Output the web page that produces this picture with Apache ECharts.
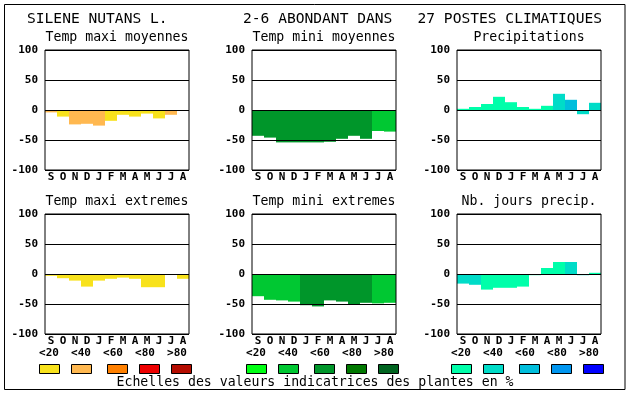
<!DOCTYPE html>
<html>
<head>
<meta charset="utf-8">
<script src="https://cdn.jsdelivr.net/npm/echarts@6/dist/echarts.min.js"></script>
<style>html,body{margin:0;padding:0;background:#fff}#c{width:630px;height:394px}</style>
</head>
<body>
<div id="c"></div>
<script>
// ---- data ----
var months = ['S','O','N','D','J','F','M','A','M','J','J','A'];
var yTicks = [-100, -50, 0, 50, 100];
var legendLabels = ['<20','<40','<60','<80','>80'];
var mainTitle = 'SILENE NUTANS L.';
var titleMid = '2-6 ABONDANT DANS';
var titleRight = '27 POSTES CLIMATIQUES';
var footer = 'Echelles des valeurs indicatrices des plantes en %';

var panelTitles = ['Temp maxi moyennes','Temp mini moyennes','Precipitations',
                   'Temp maxi extremes','Temp mini extremes','Nb. jours precip.'];

var tmaxMoy = [-4,-11,-24,-23,-26,-18,-8,-11,-6,-14,-8,0];
var tmaxMoyCls = [1,0,1,1,1,0,0,0,0,0,1,0];
var tminMoy = [-43,-46,-54,-54,-54,-54,-53,-48,-43,-48,-35,-36];
var tminMoyCls = [2,2,2,2,2,2,2,2,2,2,1,1];
var precip = [2,5,10,22,13,5,2,7,27,17,-7,12];
var precipCls = [0,0,0,0,0,0,0,0,1,2,1,1];
var tmaxExt = [-3,-7,-11,-21,-11,-8,-6,-8,-22,-22,0,-8];
var tmaxExtCls = [0,0,0,0,0,0,0,0,0,0,0,0];
var tminExt = [-37,-43,-44,-46,-52,-54,-44,-46,-50,-48,-49,-48];
var tminExtCls = [1,1,1,1,2,2,2,2,2,2,1,1];
var nbJours = [-16,-18,-26,-23,-23,-21,-2,10,20,20,-2,2];
var nbJoursCls = [1,1,0,0,0,0,0,0,0,1,1,0];

// palettes (colours of the abundance classes)
var warmPal = ['#F8E21C','#FFB850','#FF8000','#EE0000','#B40C00'];
var greenPal = ['#00FF14','#00C832','#00962A','#007800','#006420'];
var bluePal = ['#00FFAA','#00DCC8','#00BEDC','#0096F0','#0000FF'];

var panelValues = [tmaxMoy, tminMoy, precip, tmaxExt, tminExt, nbJours];
var panelCls = [tmaxMoyCls, tminMoyCls, precipCls, tmaxExtCls, tminExtCls, nbJoursCls];
var panelPal = [warmPal, greenPal, bluePal, warmPal, greenPal, bluePal];

// ---- layout ----
var lefts = [45, 252, 457];
var tops = [50, 214];
var W = 144, H = 120;
var mono = '"DejaVu Sans Mono", monospace';

var grids = [], xAxes = [], yAxes = [], series = [], graphics = [];

for (var i = 0; i < 6; i++) {
  var col = i % 3, row = Math.floor(i / 3);
  grids.push({left: lefts[col], top: tops[row], width: W, height: H,
    show: true, borderColor: '#000', borderWidth: 1, backgroundColor: 'transparent', z: 4});
  xAxes.push({type: 'category', gridIndex: i, data: months, boundaryGap: true,
    axisLine: {show: false}, axisTick: {show: false},
    axisLabel: {color: '#000', fontFamily: mono, fontWeight: 'bold', fontSize: 11, margin: 2, interval: 0}});
  yAxes.push({type: 'value', gridIndex: i, min: -100, max: 100, interval: 50, z: 4,
    axisLine: {show: false}, axisTick: {show: false},
    splitLine: {show: true, lineStyle: {color: '#000', width: 1}},
    axisLabel: {color: '#000', fontFamily: mono, fontWeight: 'bold', fontSize: 11, margin: 7}});
  var vals = panelValues[i], cls = panelCls[i], pal = panelPal[i];
  series.push({type: 'bar', xAxisIndex: i, yAxisIndex: i, barWidth: '100%', barGap: '0%',
    silent: true, animation: false, z: 2,
    data: vals.map(function (v, k) { return {value: v, itemStyle: {color: pal[cls[k]]}}; })});
  graphics.push({type: 'text', x: lefts[col] + W / 2, y: row === 0 ? 31 : 195,
    style: {text: panelTitles[i], font: '13.2px ' + mono, fill: '#000', textAlign: 'center'}});
}

// legends
var legPals = [warmPal, greenPal, bluePal];
var boxOff = [0, 32, 68, 100, 132];
for (var c = 0; c < 3; c++) {
  var base = lefts[c] - 6;
  for (var j = 0; j < 5; j++) {
    graphics.push({type: 'text', x: base + j * 32 + 10, y: 348,
      style: {text: legendLabels[j], font: 'bold 11px ' + mono, fill: '#000', textAlign: 'center'}});
    graphics.push({type: 'rect', shape: {x: base + boxOff[j] + 0.5, y: 364.5, width: 20, height: 9},
      style: {fill: legPals[c][j], stroke: '#000', lineWidth: 1}});
  }
}

// titles, footer, frame
graphics.push({type: 'text', x: 27, y: 11.5, style: {text: mainTitle, font: '14.6px ' + mono, fill: '#000'}});
graphics.push({type: 'text', x: 243, y: 11.5, style: {text: titleMid, font: '14.6px ' + mono, fill: '#000'}});
graphics.push({type: 'text', x: 602, y: 11.5, style: {text: titleRight, font: '14.6px ' + mono, fill: '#000', textAlign: 'right'}});
graphics.push({type: 'text', x: 315, y: 376, style: {text: footer, font: '13.2px ' + mono, fill: '#000', textAlign: 'center'}});
graphics.push({type: 'rect', shape: {x: 4.5, y: 4.5, width: 620.5, height: 385},
  style: {fill: 'none', stroke: '#000', lineWidth: 1}, z: 10});

var chart = echarts.init(document.getElementById('c'), null, {renderer: 'canvas'});
chart.setOption({
  animation: false,
  backgroundColor: '#fff',
  grid: grids, xAxis: xAxes, yAxis: yAxes, series: series,
  graphic: {elements: graphics}
});
</script>
</body>
</html>
